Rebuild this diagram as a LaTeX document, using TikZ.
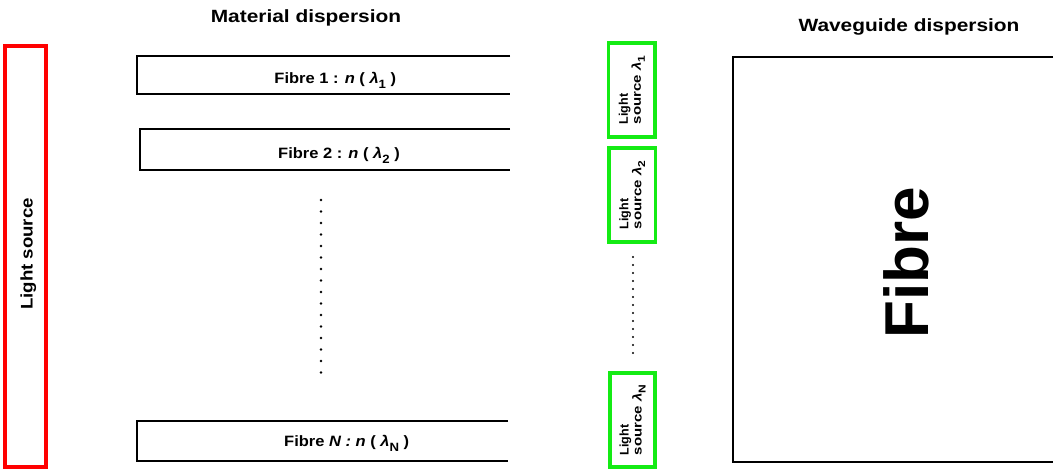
\documentclass[tikz,border=0pt]{standalone}
\usepackage{fontspec}
\setmainfont{Liberation Sans}
\definecolor{srcgreen}{RGB}{20,235,20}
% bold italic lambda with a lowered index
\newcommand{\lam}[1]{\textit{λ}\raisebox{-0.6ex}{\scalebox{0.8}{#1}}}
\begin{document}
\begin{tikzpicture}[x=1pt,y=-1pt,
  wall/.style={draw=black,line width=1.6pt},
  title/.style={font=\bfseries\fontsize{17.7}{20}\selectfont,anchor=base,inner sep=0},
  fibrelabel/.style={font=\bfseries\fontsize{15}{18}\selectfont,anchor=base,inner sep=0},
  redsrc/.style={draw=red,line width=3.5pt,inner sep=0},
  greensrc/.style={draw=srcgreen,line width=3.5pt,inner sep=0},
  srclabel/.style={font=\bfseries\fontsize{12.5}{13}\selectfont,rotate=90,align=left,inner sep=0},
  dot/.style={fill=black,draw=none}]
\useasboundingbox (0,0) rectangle (1058,471);

% headings
\node[title] (tmat) at (306,22.7) {\scalebox{1.18}[1]{Material dispersion}};
\node[title] (twg) at (909,31) {\scalebox{1.18}[1]{Waveguide dispersion}};

% broad light source
\node[redsrc,rotate=90,minimum width=421pt,minimum height=41pt] (ls) at (25.5,256.5) {};
\node[font=\bfseries\fontsize{16.8}{18}\selectfont,rotate=90,anchor=base,inner sep=0] (lslabel) at (32.7,254)
  {\scalebox{1.11}[1]{Light source}};

% fibres of the material dispersion stack
\coordinate (f1a) at (510,56);  \coordinate (f1b) at (137,56);
\coordinate (f1c) at (137,94);  \coordinate (f1d) at (510,94);
\draw[wall] (f1a) -- (f1b) -- (f1c) -- (f1d);
\node[fibrelabel] (f1) at (335.3,83.7) {\scalebox{1.1}[1]{Fibre 1 : \textit{n} ( \lam{1} )}};

\coordinate (f2a) at (510,129); \coordinate (f2b) at (140,129);
\coordinate (f2c) at (140,170); \coordinate (f2d) at (510,170);
\draw[wall] (f2a) -- (f2b) -- (f2c) -- (f2d);
\node[fibrelabel] (f2) at (339,158.3) {\scalebox{1.1}[1]{Fibre 2 : \textit{n} ( \lam{2} )}};

\coordinate (fNa) at (508,421); \coordinate (fNb) at (137,421);
\coordinate (fNc) at (137,461); \coordinate (fNd) at (508,461);
\draw[wall] (fNa) -- (fNb) -- (fNc) -- (fNd);
\node[fibrelabel] (fN) at (346.7,446.7) {\scalebox{1.1}[1]{Fibre \textit{N : n} ( \lam{N} )}};

\foreach \i in {0,...,15}
  \fill[dot] (321,200+\i*11.5) circle (1.3pt);

% narrow light sources
\node[greensrc,minimum width=46.5pt,minimum height=94pt] (g1) at (631.8,90) {};
\node[srclabel] (g1l) at (g1.center) {Light\\\scalebox{1.2}[1]{source \lam{1}}};
\node[greensrc,minimum width=46.5pt,minimum height=94pt] (g2) at (632.2,195) {};
\node[srclabel] (g2l) at (g2.center) {Light\\\scalebox{1.2}[1]{source \lam{2}}};
\node[greensrc,minimum width=45pt,minimum height=94pt] (gN) at (632.5,420) {};
\node[srclabel] (gNl) at (gN.center) {Light\\\scalebox{1.2}[1]{source \lam{N}}};

\foreach \i in {0,...,12}
  \fill[dot] (633,257+\i*8) circle (1.1pt);

% waveguide fibre
\coordinate (wa) at (1053,57);  \coordinate (wb) at (733,57);
\coordinate (wc) at (733,462);  \coordinate (wd) at (1053,462);
\draw[wall] (wa) -- (wb) -- (wc) -- (wd);
\node[font=\bfseries\fontsize{62}{62}\selectfont,rotate=90,anchor=base,inner sep=0] (wfib) at (928,262.6) {Fibre};
\end{tikzpicture}
\end{document}
